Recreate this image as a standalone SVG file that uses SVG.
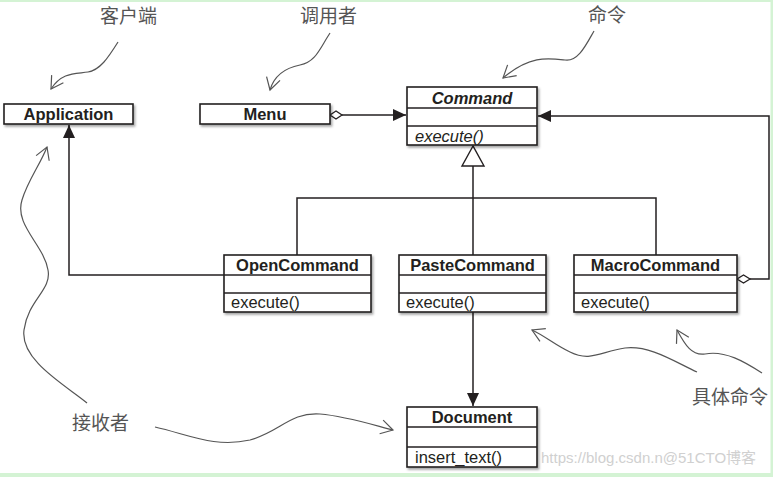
<svg xmlns="http://www.w3.org/2000/svg" width="773" height="477" viewBox="0 0 773 477">
<defs>
<marker id="fill" markerWidth="14" markerHeight="12" refX="13" refY="6" orient="auto" markerUnits="userSpaceOnUse">
<path d="M0,0 L13,6 L0,12 Z" fill="#231f20"/>
</marker>
<marker id="open" markerWidth="16" markerHeight="16" refX="13" refY="8" orient="auto" markerUnits="userSpaceOnUse">
<path d="M1,1 L13,8 L1,15" fill="none" stroke="#555" stroke-width="1.2"/>
</marker>
<filter id="sh" x="-10%" y="-10%" width="130%" height="140%">
<feDropShadow dx="1.5" dy="2" stdDeviation="1.2" flood-color="#000" flood-opacity="0.35"/>
</filter>
</defs>
<style>
.box{fill:#fff;stroke:#231f20;stroke-width:1.6}
.div{stroke:#231f20;stroke-width:1.3}
.t{font-family:"Liberation Sans",Arial,sans-serif;font-size:16.5px;font-weight:bold;fill:#231f20;text-anchor:middle}
.m{font-family:"Liberation Sans",Arial,sans-serif;font-size:16.5px;fill:#231f20}
.ln{fill:none;stroke:#231f20;stroke-width:1.5}
.sq{fill:none;stroke:#555;stroke-width:1.2}
.cn{font-family:"Noto Sans CJK SC",sans-serif;font-size:19px;fill:#555}
</style>
<rect x="0" y="0" width="773" height="477" fill="#fff"/>
<rect x="0" y="0" width="773" height="2" fill="#d4f3d4"/>
<rect x="770.5" y="0" width="2.5" height="477" fill="#d4f3d4"/>
<rect x="0" y="473" width="773" height="4" fill="#d4f3d4"/>

<g id="connectors">
<path class="ln" d="M342,115 H406" marker-end="url(#fill)"/>
<path d="M330,115 L336,111 L342,115 L336,119 Z" fill="#fff" stroke="#231f20" stroke-width="1.3"/>
<path class="ln" d="M750,279 H769 V116 H538" marker-end="url(#fill)"/>
<path d="M737,279 L743.5,275 L750,279 L743.5,283 Z" fill="#fff" stroke="#231f20" stroke-width="1.3"/>
<path class="ln" d="M473,166 V255"/>
<path class="ln" d="M297,255 V198 H656 V255"/>
<polygon points="473,146 462,166 484,166" fill="#fff" stroke="#231f20" stroke-width="1.4"/>
<path class="ln" d="M224,275 H69 V125" marker-end="url(#fill)"/>
<path class="ln" d="M473,312 V406" marker-end="url(#fill)"/>
</g>

<g id="Application">
<rect class="box" x="4" y="104" width="129" height="20" filter="url(#sh)"/>
<text class="t" x="68.5" y="120">Application</text>
</g>
<g id="Menu">
<rect class="box" x="200" y="104" width="130" height="20" filter="url(#sh)"/>
<text class="t" x="265" y="120">Menu</text>
</g>
<g id="Command">
<rect class="box" x="407" y="87" width="130" height="58" filter="url(#sh)"/>
<line class="div" x1="407" y1="108" x2="537" y2="108"/>
<line class="div" x1="407" y1="126" x2="537" y2="126"/>
<text class="t" x="472" y="103.5" font-style="italic">Command</text>
<text class="m" x="415" y="141.5" font-style="italic">execute()</text>
</g>
<g id="OpenCommand">
<rect class="box" x="224" y="255" width="147" height="57" filter="url(#sh)"/>
<line class="div" x1="224" y1="275" x2="371" y2="275"/>
<line class="div" x1="224" y1="293" x2="371" y2="293"/>
<text class="t" x="297.5" y="271">OpenCommand</text>
<text class="m" x="231" y="308">execute()</text>
</g>
<g id="PasteCommand">
<rect class="box" x="399" y="255" width="147" height="57" filter="url(#sh)"/>
<line class="div" x1="399" y1="275" x2="546" y2="275"/>
<line class="div" x1="399" y1="293" x2="546" y2="293"/>
<text class="t" x="472.5" y="271">PasteCommand</text>
<text class="m" x="406" y="308">execute()</text>
</g>
<g id="MacroCommand">
<rect class="box" x="574" y="255" width="163" height="57" filter="url(#sh)"/>
<line class="div" x1="574" y1="275" x2="737" y2="275"/>
<line class="div" x1="574" y1="293" x2="737" y2="293"/>
<text class="t" x="655.5" y="271">MacroCommand</text>
<text class="m" x="581" y="308">execute()</text>
</g>
<g id="Document">
<rect class="box" x="407" y="407" width="130" height="60" filter="url(#sh)"/>
<line class="div" x1="407" y1="427" x2="537" y2="427"/>
<line class="div" x1="407" y1="447" x2="537" y2="447"/>
<text class="t" x="472" y="423">Document</text>
<text class="m" x="415" y="463">insert_text()</text>
</g>

<g id="annotations">
<text class="cn" x="100" y="23">客户端</text>
<path class="sq" d="M118,42 C108,58 100,70 88,72 C75,74 62,72 51,89" marker-end="url(#open)"/>
<text class="cn" x="300" y="23">调用者</text>
<path class="sq" d="M330,33 C320,48 316,62 300,65 C285,68 274,76 270,90" marker-end="url(#open)"/>
<text class="cn" x="588" y="22">命令</text>
<path class="sq" d="M594,31 C586,45 578,62 565,60 C548,58 530,55 503,78" marker-end="url(#open)"/>
<text class="cn" x="72" y="430">接收者</text>
<path class="sq" d="M87,403 C65,385 20,360 24,330 C28,300 52,290 48,270 C44,245 14,225 22,200 C28,180 40,165 47,147" marker-end="url(#open)"/>
<path class="sq" d="M155,427 C190,435 215,448 250,440 C280,432 290,412 320,414 C345,416 370,424 393,430" marker-end="url(#open)"/>
<text class="cn" x="692" y="404">具体命令</text>
<path class="sq" d="M697,372 C675,362 650,345 625,348 C600,352 590,362 570,352 C555,345 545,336 532,330" marker-end="url(#open)"/>
<path class="sq" d="M762,373 C745,362 725,350 705,354 C692,356 685,345 677,330" marker-end="url(#open)"/>
</g>
<text x="541" y="463" font-family="Liberation Sans,Noto Sans CJK SC,sans-serif" font-size="15px" fill="#d0d0d0">https://blog.csdn.n@51CTO博客</text>
</svg>
